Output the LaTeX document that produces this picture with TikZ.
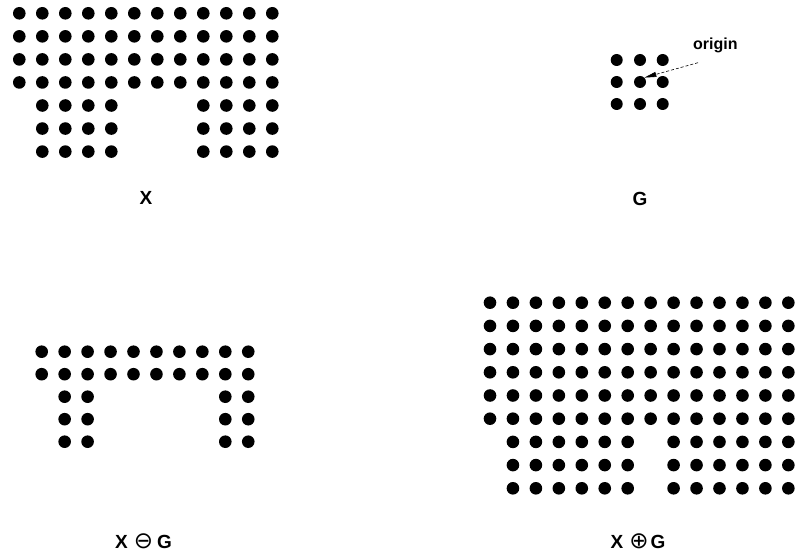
\documentclass[tikz,border=0pt]{standalone}
\usepackage{fontspec}
\setmainfont{Liberation Sans}
\newfontfamily\symfont{DejaVu Sans}
\usetikzlibrary{arrows.meta}
\begin{document}
\begin{tikzpicture}[x=1pt,y=-1pt,
  dot/.style={circle,fill=black,inner sep=0pt,minimum size=12.6pt},
  gdot/.style={dot,minimum size=12pt},
  lbl/.style={font=\fontsize{19}{21}\selectfont\bfseries,inner sep=0pt,anchor=base},
  olbl/.style={font=\fontsize{16}{18}\selectfont\bfseries,inner sep=0pt,anchor=base west},
  ptr/.style={densely dashed,line width=0.6pt,-{Triangle[length=12pt,width=5pt]}}]
\useasboundingbox (0,0) rectangle (796,556);
% X
\foreach \r in {1,...,7}{\foreach \c in {1,...,12}{
  \pgfmathtruncatemacro\keep{(\r<5) || (\c>=2 && \c<=5) || (\c>=9)}
  \ifnum\keep=1 \node[dot] (x-\r-\c) at ({19.3+23*(\c-1)},{13.3+23.05*(\r-1)}) {};\fi
}}
% G
\foreach \r/\yy in {1/60,2/82,3/104}{\foreach \c/\xx in {1/616.7,2/640,3/662.7}{
  \node[gdot] (g-\r-\c) at (\xx,\yy) {};
}}
\node[olbl] (origin) at (693,50) {origin};
\coordinate (ostart) at (698,62.7);
\draw[ptr] (ostart) -- (g-2-2.north east);
% X erosion G
\foreach \r in {1,...,5}{\foreach \c in {1,...,10}{
  \pgfmathtruncatemacro\keep{(\r<3) || (\c>=2 && \c<=3) || (\c>=9)}
  \ifnum\keep=1 \node[dot] (e-\r-\c) at ({41.7+22.95*(\c-1)},{351.7+22.5*(\r-1)}) {};\fi
}}
% X dilation G
\foreach \r in {1,...,9}{\foreach \c in {1,...,14}{
  \pgfmathtruncatemacro\keep{(\r<7) || (\c>=2 && \c<=7) || (\c>=9)}
  \ifnum\keep=1 \node[dot] (d-\r-\c) at ({490+22.95*(\c-1)},{302.7+23.2*(\r-1)}) {};\fi
}}
% labels
\node[lbl] (lx) at (146,205) {X};
\node[lbl] (lg) at (640,206) {G};
\node[lbl] (le) at (143.5,548) {X\hspace{6pt}{\symfont\mdseries\fontsize{23}{25}\selectfont ⊖}\hspace{4pt}G};
\node[lbl] (ld) at (638,548) {X\hspace{6pt}{\symfont\mdseries\fontsize{23}{25}\selectfont ⊕}\hspace{2pt}G};
\end{tikzpicture}
\end{document}
